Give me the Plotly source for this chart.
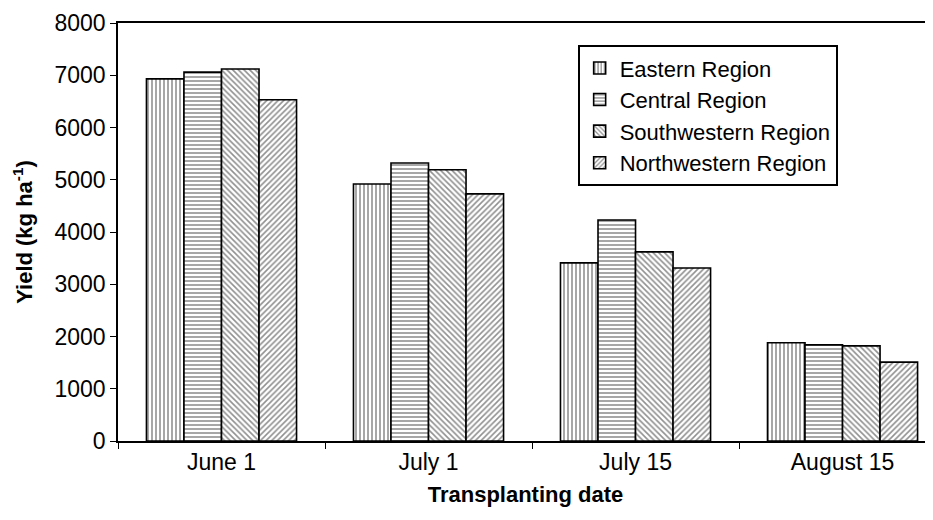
import plotly.graph_objects as go

categories = ["June 1", "July 1", "July 15", "August 15"]
eastern = [6930, 4920, 3410, 1880]
central = [7060, 5320, 4230, 1840]
southwestern = [7120, 5190, 3620, 1820]
northwestern = [6530, 4730, 3310, 1510]

series = [
    ("Eastern Region", eastern, "|"),
    ("Central Region", central, "-"),
    ("Southwestern Region", southwestern, "\\"),
    ("Northwestern Region", northwestern, "/"),
]

FONT = "Arial, 'Liberation Sans', sans-serif"
FS = 23

fig = go.Figure()
for i, (name, vals, shape) in enumerate(series):
    fig.add_trace(go.Bar(
        x=categories, y=vals, name=name, legendgroup=f"g{i}",
        marker=dict(
            color="white",
            line=dict(color="black", width=1.6),
            pattern=dict(shape=shape, fgcolor="#222222", bgcolor="white",
                         size=4, solidity=0.4, fillmode="overlay"),
        ),
    ))

# page body has an 8px default margin; figure is sized to compensate
fig.update_layout(
    width=925, height=512,
    margin=dict(l=110, r=0, t=15, b=79),
    paper_bgcolor="white", plot_bgcolor="white",
    barmode="group", bargap=0.275, bargroupgap=0,
    font=dict(family=FONT, size=FS, color="black"),
    showlegend=True,
    legend=dict(
        x=0.564, y=0.947, xanchor="left", yanchor="top",
        bordercolor="black", borderwidth=2, bgcolor="white",
        font=dict(family=FONT, size=FS - 1, color="black"),
        tracegroupgap=2, traceorder="normal",
    ),
    xaxis=dict(
        range=[-0.5, 3.437],
        showline=True, linecolor="black", linewidth=1.5, mirror=True,
        ticks="outside", tickson="boundaries", ticklen=6, tickcolor="black",
        tickfont=dict(family=FONT, size=FS),
        title=dict(text="<b>Transplanting date</b>", font=dict(family=FONT, size=FS - 1), standoff=12),
        showgrid=False, zeroline=False,
    ),
    yaxis=dict(
        range=[0, 8000], dtick=1000,
        showline=True, linecolor="black", linewidth=1.5,
        ticks="outside", ticklen=6, tickcolor="black",
        tickfont=dict(family=FONT, size=FS),
        title=dict(text="<b>Yield (kg ha<sup>-1</sup>)</b>", font=dict(family=FONT, size=FS - 1), standoff=16),
        showgrid=False, zeroline=False,
    ),
)

fig.write_html("out.html")
